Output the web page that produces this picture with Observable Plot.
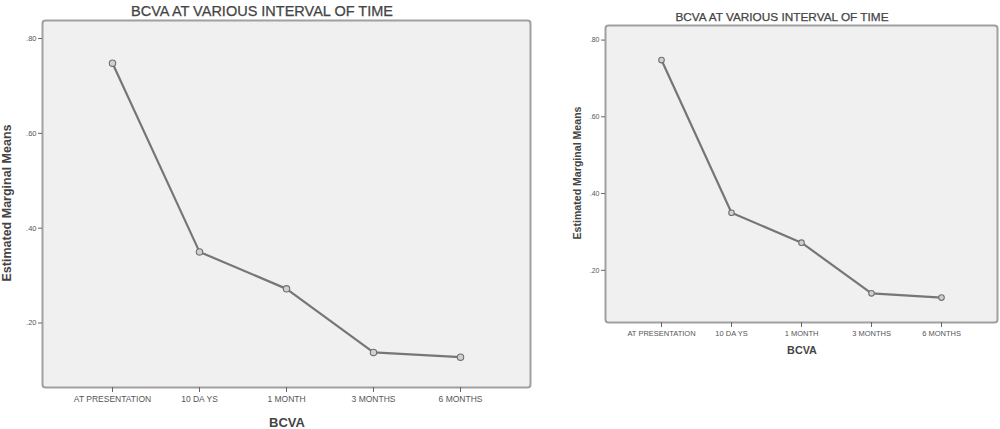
<!DOCTYPE html>
<html>
<head>
<meta charset="utf-8">
<script src="https://cdn.jsdelivr.net/npm/d3@7"></script>
<script src="https://cdn.jsdelivr.net/npm/@observablehq/plot@0.6"></script>
<style>
  html, body { margin: 0; padding: 0; background: #fff; }
  #root { position: relative; width: 1000px; height: 429px; overflow: hidden; font-family: "Liberation Sans", Arial, sans-serif; }
  .panel { position: absolute; }
  .txt { position: absolute; white-space: nowrap; color: #444; font-family: "Liberation Sans", Arial, sans-serif; }
  .title { transform: translate(-50%, -50%); -webkit-text-stroke: 0.25px #444; }
  .xl { font-weight: bold; transform: translate(-50%, -50%); }
  .yl { font-weight: bold; transform: translate(-50%, -50%) rotate(-90deg); }
</style>
</head>
<body>
<div id="root"></div>
<script>
const categories = ["AT PRESENTATION", "10 DAYS", "1 MONTH", "3 MONTHS", "6 MONTHS"];
const tickLabels = ["AT PRESENTATION", "10 DA YS", "1 MONTH", "3 MONTHS", "6 MONTHS"];
const leftMeans = [0.748, 0.350, 0.272, 0.138, 0.128];
const rightMeans = [0.748, 0.350, 0.272, 0.140, 0.129];
const yTicks = [0.2, 0.4, 0.6, 0.8];
const yDomain = [0.064, 0.838];
const titleText = "BCVA AT VARIOUS INTERVAL OF TIME";
const yLabel = "Estimated Marginal Means";
const xLabel = "BCVA";

const root = document.getElementById("root");
const fmtY = v => d3.format(".2f")(v).replace(/^0/, "");

function addText(cls, text, x, y, size) {
  const d = document.createElement("div");
  d.className = "txt " + cls;
  d.textContent = text;
  d.style.left = x + "px";
  d.style.top = y + "px";
  d.style.fontSize = size + "px";
  root.appendChild(d);
}

function panel(values, cfg) {
  const data = categories.map((c, i) => ({cat: c, v: values[i]}));
  const labelOf = Object.fromEntries(categories.map((c, i) => [c, tickLabels[i]]));
  const chart = Plot.plot({
    width: cfg.width,
    height: cfg.height,
    marginLeft: cfg.ml, marginRight: cfg.mr, marginTop: cfg.mt, marginBottom: cfg.mb,
    style: {background: "transparent", fontFamily: "Liberation Sans, Arial, sans-serif", color: "#555"},
    x: {type: "point", domain: categories, padding: 0.78},
    y: {domain: yDomain},
    marks: [
      Plot.frame({fill: "#f0f0f0", stroke: "#a0a0a0", strokeWidth: 2, rx: 3}),
      Plot.axisX({ticks: categories, tickFormat: d => labelOf[d], tickSize: 5, tickPadding: cfg.xpad, fontSize: cfg.xfs, label: null, stroke: "#666", strokeWidth: 1, fill: "#555"}),
      Plot.axisY({ticks: yTicks, tickFormat: fmtY, tickSize: 4, tickPadding: 2, fontSize: cfg.yfs, label: null, stroke: "#666", strokeWidth: 1, fill: "#555"}),
      Plot.line(data, {x: "cat", y: "v", stroke: "#767676", strokeWidth: 2.2}),
      Plot.dot(data, {x: "cat", y: "v", r: cfg.r, fill: "#d0d0d0", stroke: "#707070", strokeWidth: 1.1})
    ]
  });
  const wrap = document.createElement("div");
  wrap.className = "panel";
  wrap.style.left = cfg.left + "px";
  wrap.style.top = cfg.top + "px";
  wrap.appendChild(chart);
  root.appendChild(wrap);
}

panel(leftMeans, {left: 0, top: 0, width: 540, height: 429, ml: 42, mr: 10, mt: 20, mb: 42, xpad: 3, xfs: 8.5, yfs: 7.5, r: 3.2});
addText("title", titleText, 262, 11, 14.5);
addText("yl", yLabel, 7, 203, 12.5);
addText("xl", xLabel, 287, 422, 13);

panel(rightMeans, {left: 560, top: 0, width: 440, height: 360, ml: 45, mr: 3, mt: 25, mb: 38, xpad: 3, xfs: 7.5, yfs: 7, r: 2.8});
addText("title", titleText, 782, 17, 11.8);
addText("yl", yLabel, 577, 173, 10.6);
addText("xl", xLabel, 802, 350, 10.8);
</script>
</body>
</html>
